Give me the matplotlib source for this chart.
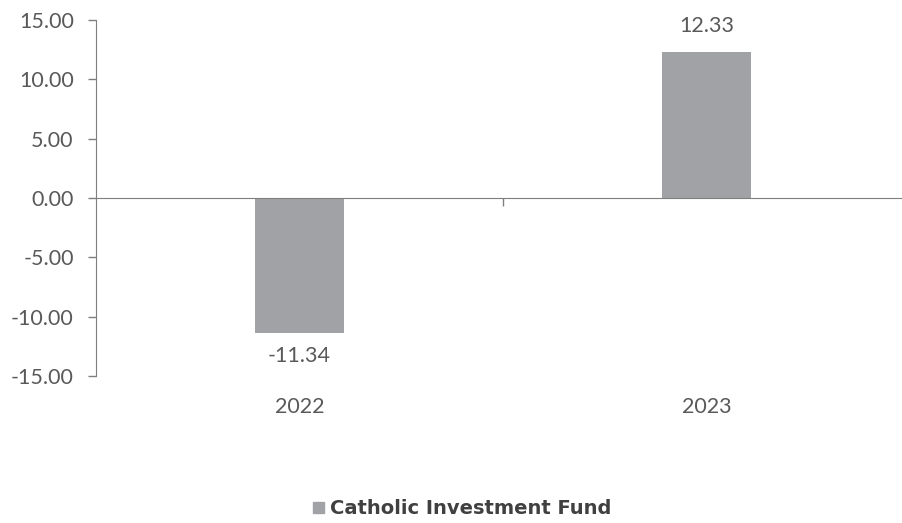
import numpy as np
import matplotlib.pyplot as plt
from matplotlib.patches import Patch

years = ['2022', '2023']
values = [-11.34, 12.33]
series_name = 'Catholic Investment Fund'

bar_color = '#a0a2a5'
text_color = '#595959'
axis_color = '#7f7f7f'

plt.rcParams['font.family'] = ['Lato', 'DejaVu Sans']

fig = plt.figure(figsize=(9.03, 5.23), dpi=100)
ax = fig.add_axes([0.1063, 0.281, 0.9014, 0.681])

x = np.arange(len(years))
ax.bar(x, values, width=0.22, color=bar_color, zorder=2)

ax.set_ylim(-15, 15)
ax.set_xlim(-0.5, 1.5)
ax.set_yticks(np.arange(-15, 16, 5))
ax.set_yticklabels([f'{v:.2f}' for v in np.arange(-15, 16, 5)])

for s in ['top', 'right']:
    ax.spines[s].set_visible(False)
ax.spines['left'].set_color(axis_color)
ax.spines['bottom'].set_position(('data', 0))
ax.spines['bottom'].set_color(axis_color)

ax.tick_params(axis='y', colors=axis_color, labelcolor=text_color,
               labelsize=15.5, length=6, width=1, pad=10)
ax.set_xticks([0.5])
ax.set_xticklabels([''])
ax.tick_params(axis='x', colors=axis_color, length=6, width=1, direction='out')

for xi, yr in zip(x, years):
    ax.text(xi, -16.8, yr, ha='center', va='top', fontsize=15.5, color=text_color)

for xi, v in zip(x, values):
    if v >= 0:
        ax.text(xi, v + 1.3, f'{v:.2f}', ha='center', va='bottom', fontsize=15.5, color=text_color)
    else:
        ax.text(xi, v - 1.1, f'{v:.2f}', ha='center', va='top', fontsize=15.5, color=text_color)

fig.legend(handles=[Patch(color=bar_color, label=series_name)],
           loc='center', bbox_to_anchor=(0.512, 0.027), frameon=False,
           handlelength=0.55, handleheight=0.55, handletextpad=0.3,
           prop={'family': 'DejaVu Sans', 'weight': 'bold', 'size': 14},
           labelcolor='#404040')

fig.savefig('out.png', dpi=100)
